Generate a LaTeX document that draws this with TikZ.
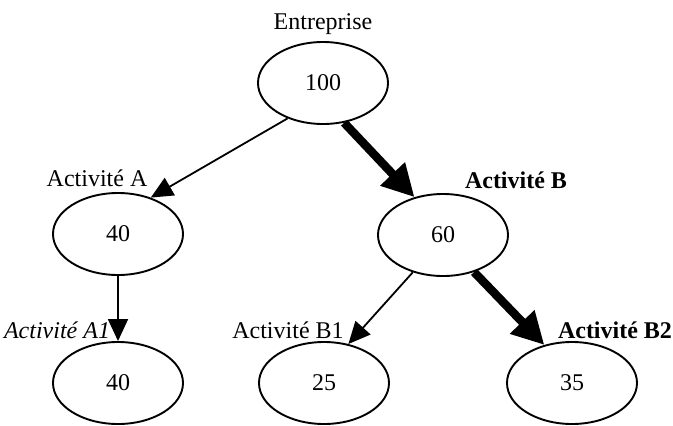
\documentclass[tikz,border=0pt]{standalone}
\usepackage{fontspec}
\setmainfont{Liberation Serif}
\usetikzlibrary{shapes.geometric,arrows.meta}
\begin{document}
\begin{tikzpicture}[x=1pt,y=-1pt,
  val/.style={ellipse,draw,line width=1.9pt,minimum width=130pt,minimum height=82pt,inner sep=0pt,font=\fontsize{24}{27}\selectfont},
  lab/.style={inner sep=0pt,font=\fontsize{24}{27}\selectfont},
  thinarrow/.style={line width=1.8pt,-{Triangle[length=22pt,width=20pt]}},
  thickarrow/.style={line width=8.5pt,-{Triangle[length=32pt,width=32pt]}}]
\useasboundingbox (0,0) rectangle (673,426);
\node[val] (e) at (323,83) {100};
\node[val] (a) at (118,234) {40};
\node[val] (b) at (443,235) {60};
\node[val] (a1) at (118,383) {40};
\node[val] (b1) at (324,383) {25};
\node[val] (b2) at (572,383) {35};
\node[lab] (le) at (323,24) {Entreprise};
\node[lab] (la) at (97,178) {Activité A};
\node[lab,font=\fontsize{24}{27}\selectfont\bfseries] (lb) at (516,180) {Activité B};
\node[lab,font=\fontsize{24}{27}\selectfont\itshape] (la1) at (57,330) {Activité A1};
\node[lab] (lb1) at (288,330) {Activité B1};
\node[lab,font=\fontsize{24}{27}\selectfont\bfseries] (lb2) at (615,330) {Activité B2};
\draw[thinarrow] (e.225) -- (a.48);
\draw[thickarrow] (e.-62) -- (b.127);
\draw[thinarrow] (a.south) -- (a1.north);
\draw[thinarrow] (b.-129) -- (b1.58);
\draw[thickarrow] (b.-50) -- (b2.126);
\end{tikzpicture}
\end{document}
